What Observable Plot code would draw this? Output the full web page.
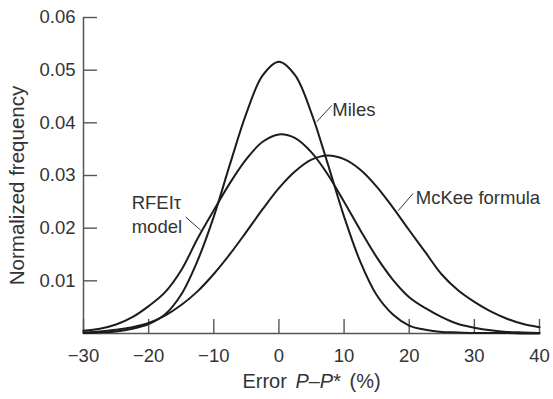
<!DOCTYPE html>
<html><head><meta charset="utf-8">
<script src="https://cdn.jsdelivr.net/npm/d3@7"></script>
<script src="https://cdn.jsdelivr.net/npm/@observablehq/plot@0.6"></script>
<style>body{margin:0;background:#fff}</style>
</head><body><div id="chart"></div>
<script>
const xValues = [-30,-27.5,-25,-22.5,-20,-17.5,-15,-12.5,-10,-7.5,-5,-2.5,0,2.5,5,7.5,10,12.5,15,17.5,20,22.5,25,27.5,30,32.5,35,37.5,40];
const miles = [0.0001,0.0002,0.0004,0.0009,0.0018,0.0036,0.0074,0.0138,0.0222,0.0322,0.0418,0.0490,0.0516,0.0490,0.0418,0.0322,0.0222,0.0136,0.0073,0.0036,0.0015,0.0007,0.0003,0.0002,0.0001,0.0001,0.0001,0,0];
const rfeit = [0.0005,0.0009,0.0017,0.0031,0.0052,0.0078,0.0120,0.0180,0.0234,0.0286,0.0331,0.0364,0.0378,0.0371,0.0344,0.0302,0.0250,0.0196,0.0145,0.0102,0.0069,0.0048,0.0031,0.0018,0.0011,0.0006,0.0003,0.0002,0.0001];
const mckee = [0.0002,0.0004,0.0007,0.0012,0.0020,0.0034,0.0054,0.0080,0.0113,0.0151,0.0193,0.0236,0.0276,0.0308,0.0330,0.0338,0.0331,0.0311,0.0279,0.0239,0.0196,0.0154,0.0112,0.0082,0.0060,0.0042,0.0028,0.0018,0.0012];
const seriesNames = ["Miles", "RFEIτ model", "McKee formula"];
const xTicks = [-30,-20,-10,0,10,20,30,40];
const yTicks = [0.01,0.02,0.03,0.04,0.05,0.06];
const labelTexts = ["Miles", "McKee formula", "RFEIτ\nmodel"];
const labelX = [8.2, 21.0, -22.6];
const labelY = [0.0428, 0.0260, 0.0228];
const leaderX1 = [8.1, 20.6, -14.3];
const leaderY1 = [0.0433, 0.0266, 0.0221];
const leaderX2 = [5.8, 18.3, -12.0];
const leaderY2 = [0.0402, 0.0233, 0.0196];
const yLabel = "Normalized frequency";
const xLabel = "Error P–P* (%)";

const seriesValues = [miles, rfeit, mckee];
const rows = [];
seriesValues.forEach((vals, s) => vals.forEach((v, i) => rows.push({series: seriesNames[s], x: xValues[i], v})));
const labels = labelTexts.map((t, i) => ({text: t, x: labelX[i], y: labelY[i]}));
const leaders = leaderX1.map((d, i) => ({x1: d, y1: leaderY1[i], x2: leaderX2[i], y2: leaderY2[i]}));

const font = "'Liberation Sans', Arial, Helvetica, sans-serif";
const chart = Plot.plot({
  width: 553, height: 399,
  marginLeft: 83, marginRight: 14, marginTop: 17, marginBottom: 66,
  style: {fontFamily: font, fontSize: "18px", color: "#333", background: "#fff"},
  x: {domain: [-30, 40]},
  y: {domain: [0, 0.06]},
  marks: [
    Plot.axisX({ticks: xTicks, tickSize: -14, tickPadding: 29, stroke: "#555", strokeWidth: 1.4, fill: "#333", fontSize: 18.5,
      tickFormat: d => d < 0 ? "\u2212" + Math.abs(d) : String(d), label: null}),
    Plot.axisY({ticks: yTicks, tickSize: -14, tickPadding: 22, stroke: "#555", strokeWidth: 1.4, fill: "#333", fontSize: 18.5,
      tickFormat: d3.format(".2f"), label: null}),
    Plot.ruleX([-30], {stroke: "#555", strokeWidth: 1.5}),
    Plot.ruleY([0], {stroke: "#555", strokeWidth: 1.5}),
    Plot.line(rows, {x: "x", y: "v", z: "series", curve: "catmull-rom", stroke: "#1c1c1c", strokeWidth: 2}),
    Plot.link(leaders, {x1: "x1", y1: "y1", x2: "x2", y2: "y2", stroke: "#333", strokeWidth: 1}),
    Plot.text(labels, {x: "x", y: "y", text: "text", textAnchor: "start", lineAnchor: "middle", lineHeight: 1.3, fontSize: 18.5, fill: "#333"}),
    Plot.text([yLabel], {frameAnchor: "left", textAnchor: "middle", rotate: -90, dx: -66, dy: 10, fontSize: 20.5, fill: "#333"}),
    Plot.text([xLabel], {frameAnchor: "bottom", textAnchor: "middle", dy: 54, fontSize: 20, fill: "#333"})
  ]
});
document.getElementById("chart").appendChild(chart);

// italicize the P symbols in the x-axis label
const xl = Array.from(chart.querySelectorAll("text")).find(t => t.textContent === xLabel);
if (xl) {
  const ns = "http://www.w3.org/2000/svg";
  xl.textContent = "";
  xl.setAttribute("word-spacing", "3");
  [["Error ", null], ["P", "italic"], ["–", null], ["P", "italic"], ["* (%)", null]].forEach(([t, st]) => {
    const ts = document.createElementNS(ns, "tspan");
    ts.textContent = t;
    if (st) ts.setAttribute("font-style", st);
    xl.appendChild(ts);
  });
}
</script></body></html>
